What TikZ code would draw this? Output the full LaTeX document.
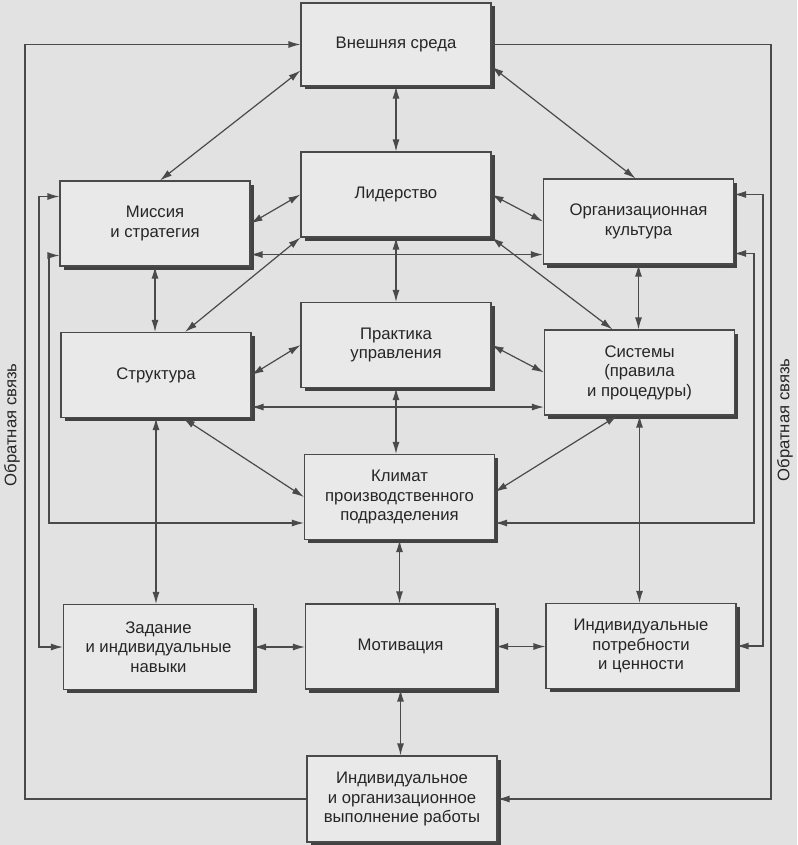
\documentclass[tikz,border=0pt]{standalone}
\usepackage{fontspec}
\setmainfont{Liberation Sans}
\usetikzlibrary{arrows.meta,calc,shadows}
\definecolor{bgc}{HTML}{E2E2E2}
\definecolor{boxc}{HTML}{E9E9E9}
\definecolor{linec}{HTML}{4A4A4A}
\definecolor{textc}{HTML}{262626}
\definecolor{shadc}{HTML}{424242}
\begin{document}
\begin{tikzpicture}[x=1pt,y=-1pt,
  box/.style={draw=linec, fill=boxc, line width=1.1pt, minimum width=190pt, minimum height=85pt,
    inner sep=0pt, align=center, text=textc, font=\fontsize{16.7}{19.5}\selectfont,
    drop shadow={shadow xshift=3.5pt,shadow yshift=-3.5pt,fill=shadc,opacity=1}},
  con/.style={draw=linec, line width=1.2pt},
  dbl/.style={con, {Latex[length=12pt,width=7pt]}-{Latex[length=12pt,width=7pt]}},
  arr/.style={con, -{Latex[length=12pt,width=7pt]}},
  fb/.style={font=\fontsize{16.7}{19}\selectfont, text=textc, rotate=90}
]
\fill[bgc] (0,0) rectangle (797,845);
\useasboundingbox (0,0) rectangle (797,845);

% boxes
\node[box, minimum height=83pt] (ext) at (396,44.5) {Внешняя среда};
\node[box] (lead) at (396,194.5) {Лидерство};
\node[box] (mis) at (155,223.5) {Миссия\\и стратегия};
\node[box] (cult) at (638.5,221.5) {Организационная\\культура};
\node[box] (prac) at (396,345) {Практика\\управления};
\node[box] (str) at (156,375) {Структура};
\node[box] (sys) at (639.5,372.5) {Системы\\(правила\\и процедуры)};
\node[box] (clim) at (399.5,497) {Климат\\производственного\\подразделения};
\node[box] (mot) at (400.5,646.5) {Мотивация};
\node[box] (task) at (158.5,647) {Задание\\и индивидуальные\\навыки};
\node[box] (need) at (641,646) {Индивидуальные\\потребности\\и ценности};
\node[box, minimum height=86pt] (perf) at (402,799) {Индивидуальное\\и организационное\\выполнение работы};

% feedback labels
\node[fb] (fbl) at (12,425) {Обратная связь};
\node[fb] (fbr) at (785,420) {Обратная связь};

% bus coordinates
\coordinate (fbL) at (25,0);
\coordinate (fbR) at (771,0);
\coordinate (busLa) at (39,0);
\coordinate (busLb) at (49,0);
\coordinate (busRa) at (763,0);
\coordinate (busRb) at (754,0);

% central connectors
\draw[dbl] (ext.south) -- (ext.south |- lead.north);
\draw[dbl] ($(ext.south west)+(0,-16)$) -- ($(mis.north)+(5,0)$);
\draw[dbl] ($(ext.south east)+(0,-20)$) -- ($(cult.north)+(-3,0)$);
\draw[dbl] (lead.west) -- (mis.east);
\draw[dbl] (lead.east) -- (cult.west);
\draw[dbl] ($(mis.south east)+(0,-12)$) coordinate (h1) -- (h1 -| cult.west);
\draw[dbl] (lead.south) -- (lead.south |- prac.north);
\draw[dbl] ($(str.north)+(29,0)$) -- (lead.south west);
\draw[dbl] (lead.south east) -- ($(sys.north)+(-27,0)$);
\draw[dbl] (mis.south) -- (mis.south |- str.north);
\draw[dbl] (cult.south) -- (cult.south |- sys.north);
\draw[dbl] (prac.west) -- (str.east);
\draw[dbl] (prac.east) -- (sys.west);
\draw[dbl] ($(str.south east)+(0,-11)$) coordinate (h2) -- (h2 -| sys.west);
\draw[dbl] (prac.south) -- (prac.south |- clim.north);
\draw[dbl] ($(str.south)+(27,0)$) -- (clim.west);
\draw[dbl] ($(sys.south)+(-22,0)$) -- ($(clim.east)+(0,-5)$);
\draw[dbl] (str.south) -- (str.south |- task.north);
\draw[dbl] (sys.south) -- (sys.south |- need.north);
\draw[dbl] (clim.south) -- (clim.south |- mot.north);
\draw[dbl] (task.east) -- (task.east -| mot.west);
\draw[dbl] (mot.east) -- (mot.east -| need.west);
\draw[dbl] (mot.south) -- (mot.south |- perf.north);

% feedback loops
\draw[arr] (perf.west) -- (perf.west -| fbL) -- (fbL |- ext.west) -- (ext.west);
\draw[arr] (ext.east) -- (ext.east -| fbR) -- (fbR |- perf.east) -- (perf.east);

\coordinate (cL) at ($(clim.west)+(0,26)$);
\coordinate (cR) at ($(clim.east)+(0,26)$);
\draw[dbl] ($(mis.west)+(0,-27)$) coordinate (m1) -- (m1 -| busLa) -- (busLa |- task.west) -- (task.west);
\draw[dbl] ($(mis.west)+(0,32)$) coordinate (m2) -- (m2 -| busLb) -- (busLb |- cL) -- (cL);
\draw[dbl] ($(cult.east)+(0,-27)$) coordinate (k1) -- (k1 -| busRa) -- (busRa |- need.east) -- (need.east);
\draw[dbl] ($(cult.east)+(0,32)$) coordinate (k2) -- (k2 -| busRb) -- (busRb |- cR) -- (cR);
\end{tikzpicture}
\end{document}
